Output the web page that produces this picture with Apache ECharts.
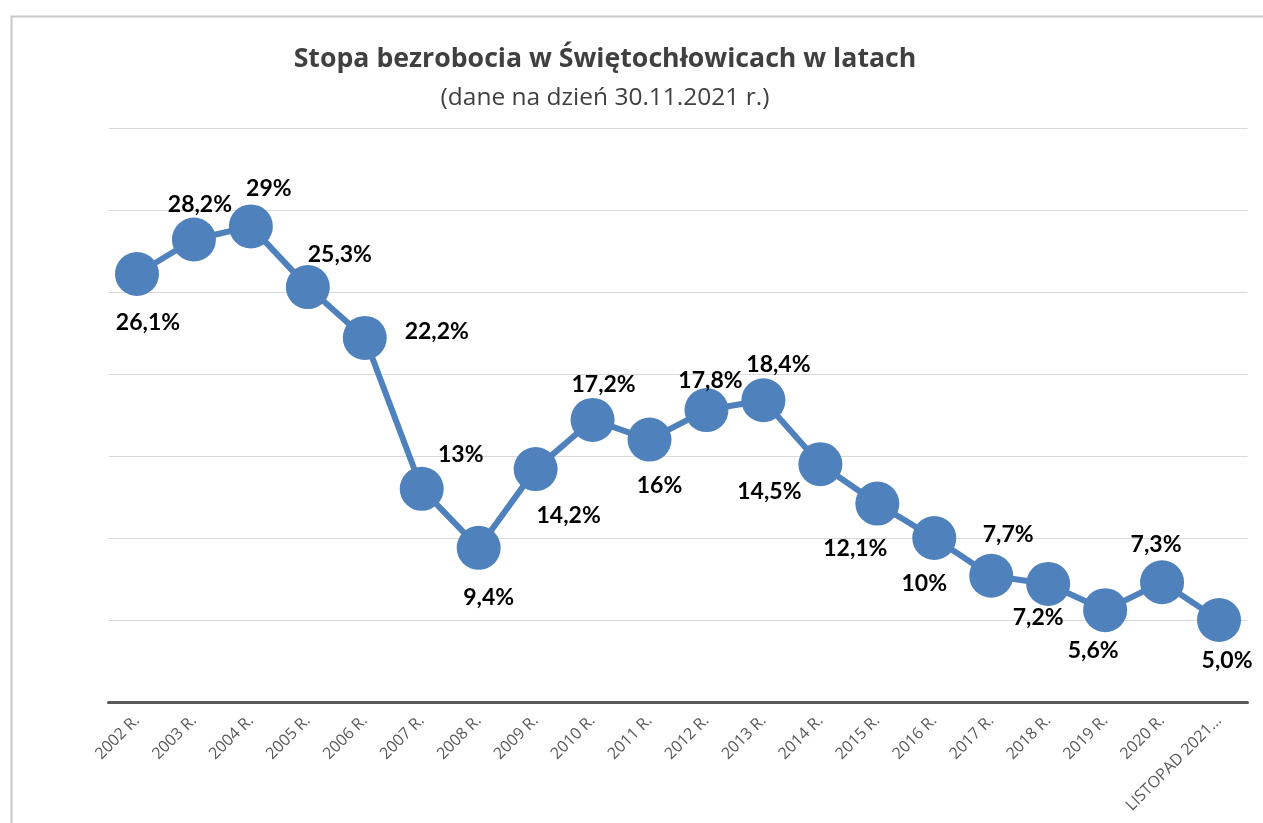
<!DOCTYPE html>
<html>
<head>
<meta charset="utf-8">
<script src="https://cdn.jsdelivr.net/npm/echarts@6.0.0/dist/echarts.min.js"></script>
<style>
  html, body { margin: 0; padding: 0; background: #fff; }
  #chart { width: 1263px; height: 823px; }
</style>
</head>
<body>
<div id="chart"></div>
<script>
// dane
var years = ['2002 R.', '2003 R.', '2004 R.', '2005 R.', '2006 R.', '2007 R.', '2008 R.', '2009 R.',
    '2010 R.', '2011 R.', '2012 R.', '2013 R.', '2014 R.', '2015 R.', '2016 R.', '2017 R.',
    '2018 R.', '2019 R.', '2020 R.', 'LISTOPAD 2021...'];
var rates = [26.1, 28.2, 29, 25.3, 22.2, 13, 9.4, 14.2, 17.2, 16, 17.8, 18.4, 14.5, 12.1, 10,
    7.7, 7.2, 5.6, 7.3, 5.0];
var rateLabels = ['26,1%', '28,2%', '29%', '25,3%', '22,2%', '13%', '9,4%', '14,2%', '17,2%', '16%',
    '17,8%', '18,4%', '14,5%', '12,1%', '10%', '7,7%', '7,2%', '5,6%', '7,3%', '5,0%'];

// przesuniecia etykiet wzgledem punktu (uklad, nie dane)
var labelOffsets = [[11, 49], [6, -35], [18, -38], [32, -33], [72, -6], [39, -34], [10, 50],
    [33, 46], [11, -35], [10, 46], [4, -30], [15, -36], [-51, 27], [-22, 45], [-10, 46],
    [17, -41], [-10, 34], [-12, 40], [-6, -38], [8, 41]];

var chart = echarts.init(document.getElementById('chart'));

var option = {
    backgroundColor: '#fff',
    animation: false,
    title: [{
        text: 'Stopa bezrobocia w Świętochłowicach w latach',
        left: 600,
        top: 41,
        textAlign: 'center',
        textStyle: {
            fontFamily: 'Open Sans',
            fontSize: 26.7,
            fontWeight: 'bold',
            color: '#404040'
        }
    }, {
        text: '(dane na dzień 30.11.2021 r.)',
        left: 600,
        top: 81,
        textAlign: 'center',
        textStyle: {
            fontFamily: 'Open Sans',
            fontSize: 24.5,
            fontWeight: 'normal',
            color: '#404040'
        }
    }],
    graphic: [{
        type: 'rect',
        left: 9,
        top: 14,
        shape: { width: 1300, height: 900 },
        style: { fill: 'none', stroke: '#c8c8c8', lineWidth: 2 },
        silent: true,
        z: -1
    }],
    grid: {
        left: 108.5,
        right: 15.5,
        top: 128,
        bottom: 121
    },
    xAxis: {
        type: 'category',
        data: years,
        boundaryGap: true,
        axisLine: { lineStyle: { color: '#595959', width: 3 } },
        axisTick: { show: false },
        axisLabel: {
            rotate: 45,
            interval: 0,
            margin: 16,
            fontFamily: 'Open Sans',
            fontSize: 16,
            color: '#595959'
        }
    },
    yAxis: {
        type: 'value',
        min: 0,
        max: 35,
        interval: 5,
        axisLine: { show: false },
        axisTick: { show: false },
        axisLabel: { show: false },
        splitLine: { lineStyle: { color: '#d9d9d9', width: 1 } }
    },
    series: [{
        name: 'Stopa bezrobocia',
        type: 'line',
        data: rates.map(function(v, i) {
            return {
                value: v,
                label: { offset: labelOffsets[i] }
            };
        }),
        symbol: 'circle',
        symbolSize: 44,
        lineStyle: { color: '#4f81bd', width: 6 },
        itemStyle: { color: '#4f81bd' },
        label: {
            show: true,
            position: 'inside',
            align: 'center',
            verticalAlign: 'middle',
            formatter: function(p) {
                return rateLabels[p.dataIndex];
            },
            fontFamily: 'Lato',
            fontSize: 23,
            fontWeight: 'bold',
            color: '#000'
        }
    }]
};

chart.setOption(option);
</script>
</body>
</html>
